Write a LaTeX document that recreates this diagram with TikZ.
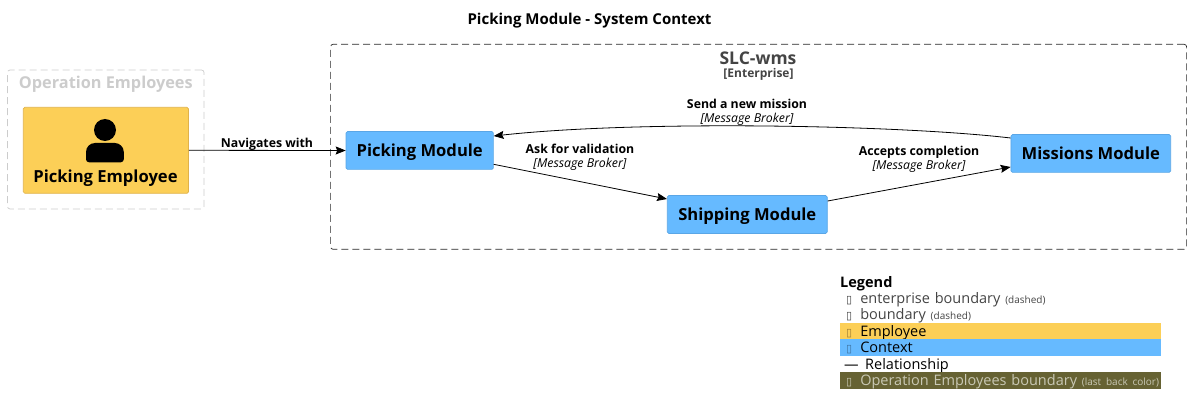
\documentclass[tikz,border=0pt]{standalone}
\usepackage{fontspec}
\setmainfont{Open Sans}
\newfontfamily\symfont{DejaVu Sans}
\usetikzlibrary{matrix,arrows.meta}
\definecolor{employeefill}{HTML}{FCCF57}
\definecolor{employeeedge}{HTML}{E0B24A}
\definecolor{contextfill}{HTML}{66BAFF}
\definecolor{contextedge}{HTML}{5AA6E6}
\definecolor{boundaryfill}{HTML}{666233}
\definecolor{boundarytext}{HTML}{C9C8B4}
\definecolor{graytext}{HTML}{444444}
\newcommand{\tofu}{{\symfont\fontsize{11}{11}\selectfont\char"25AF}\hspace{8pt}}
\newcommand{\smalltext}[1]{{\fontsize{10}{10}\selectfont #1}}

\begin{document}
\begin{tikzpicture}[x=1pt,y=-1pt,
box/.style={rectangle,rounded corners=1.5pt,line width=.7pt,inner sep=0pt,text height=12pt,text depth=0pt,font=\fontsize{16.6}{16.6}\selectfont\bfseries},
personbox/.style={box,draw=employeeedge,fill=employeefill,minimum width=165.2pt,minimum height=86pt},
contextbox/.style={box,draw=contextedge,fill=contextfill,minimum height=37.8pt},
boundary/.style={rectangle,rounded corners=2.5pt,dash pattern=on 7pt off 4pt,line width=.7pt,inner sep=0pt},
rellabel/.style={align=center,inner sep=0pt,font=\fontsize{12.3}{14.3}\selectfont}]

\tikzset{relarrow/.style={-{Stealth[length=10pt,width=8pt,inset=1.5pt]}, line width=.8pt, black}}

\useasboundingbox (0,0) rectangle (1191,414);

\node[font=\fontsize{15}{15}\selectfont\bfseries] (title) at (589.5,20.5) {Picking Module - System Context};

\node[boundary,draw=black!85,minimum width=856pt,minimum height=205pt] (wms) at (758.6,146.8) {};
\node[boundary,draw=black!20,minimum width=196.5pt,minimum height=139pt] (operation) at (105.8,139.5) {};

\node[font=\fontsize{16.3}{16.3}\selectfont\bfseries,text=black!20] (operationlabel) at (105.8,84) {Operation Employees};
\node[font=\fontsize{17.5}{17.5}\selectfont\bfseries,text=graytext] (wmslabel) at (758,58) {SLC-wms};
\node[font=\fontsize{12}{12}\selectfont\bfseries,text=graytext] (wmstype) at (758.5,74) {[Enterprise]};

\node[personbox] (employee) at (105.9,150.3) {};
\node[font=\fontsize{16.6}{16.6}\selectfont\bfseries] (employeelabel) at (105.5,178) {Picking Employee};
\fill (105,130) circle (11pt);
\fill (86,152) arc[start angle=180,end angle=90,radius=9pt] -- (114.8,143) arc[start angle=90,end angle=0,radius=9pt] -- (123.8,159.3) arc[start angle=0,end angle=-90,radius=3pt] -- (89,162.3) arc[start angle=-90,end angle=-180,radius=3pt] -- cycle;

\node[contextbox,minimum width=147.3pt] (picking) at (419.7,150.5) {Picking Module};
\node[contextbox,minimum width=160pt] (shipping) at (747.3,214.5) {Shipping Module};
\node[contextbox,minimum width=159.7pt] (missions) at (1090.8,153.5) {Missions Module};

\draw[relarrow] (employee.east) -- (picking.west);
\draw[relarrow] ([yshift=-13.8pt]picking.east) -- ([yshift=15.5pt]shipping.west);
\draw[relarrow] ([yshift=13.5pt]shipping.east) -- ([yshift=-13.5pt]missions.west);
\draw[relarrow] ([yshift=15.5pt]missions.west) .. controls (900,125) and (640,120) .. ([yshift=14.5pt]picking.east);

\node[rellabel] (navlabel) at (267,144) {\bfseries Navigates with};
\node[rellabel] (sendlabel) at (747,112.5) {\bfseries Send a new mission\\ \itshape [Message Broker]};
\node[rellabel] (asklabel) at (580,157.5) {\bfseries Ask for validation\\ \itshape [Message Broker]};
\node[rellabel] (acceptlabel) at (919,159) {\bfseries Accepts completion\\ \itshape [Message Broker]};

\matrix (legend) [matrix of nodes,anchor=north west,%
   row sep=0pt,%
   inner sep=0pt,%
   nodes={rectangle, text width=315pt, minimum height=16.4pt, text height=11.2pt, text depth=1pt, inner sep=0pt, inner xsep=3pt, outer sep=0pt, font=\fontsize{14.5}{14.5}\selectfont, anchor=center}] at (840,273.6) {
 |[font=\fontsize{14.5}{14.5}\selectfont\bfseries]| \hspace{-3pt}Legend\\
 |[text=graytext]| \hspace{3pt}\tofu enterprise boundary \smalltext{(dashed)}\\
 |[text=graytext]| \hspace{3pt}\tofu boundary \smalltext{(dashed)}\\
 |[fill=employeefill]| \hspace{3pt}{\color{employeeedge!70!black}\tofu}Employee\\
 |[fill=contextfill]| \hspace{3pt}{\color{contextedge!70!black}\tofu}Context\\
 \hspace{1pt}---\hspace{6.5pt}Relationship\\
 |[fill=boundaryfill,text=boundarytext]| \hspace{3pt}\mbox{\tofu Operation Employees boundary \smalltext{(last back color)}}\\
};

\end{tikzpicture}
\end{document}
